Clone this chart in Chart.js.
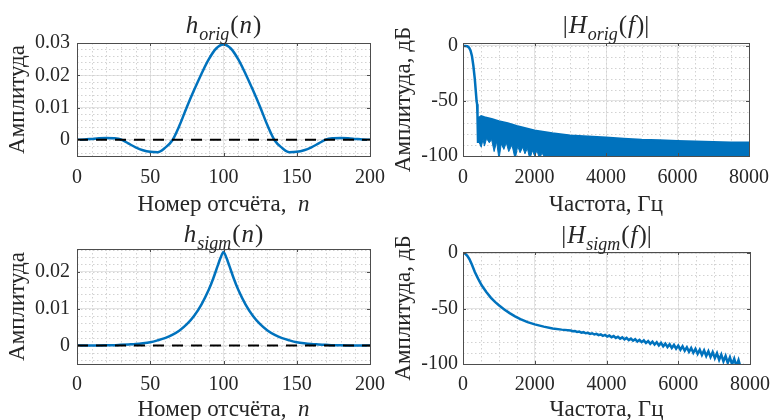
<!DOCTYPE html>
<html>
<head>
<meta charset="utf-8">
<script src="https://cdn.jsdelivr.net/npm/chart.js@4.4.1/dist/chart.umd.min.js"></script>
<style>
  body { margin: 0; background: #fff; }
  #wrap { position: relative; width: 779px; height: 420px; overflow: hidden; background: #fff; }
  #wrap canvas { position: absolute; left: 0; top: 0; }
</style>
</head>
<body>
<div id="wrap">
  <canvas id="cOrigT" width="779" height="420"></canvas>
  <canvas id="cOrigF" width="779" height="420"></canvas>
  <canvas id="cSigmT" width="779" height="420"></canvas>
  <canvas id="cSigmF" width="779" height="420"></canvas>
</div>
<script>
const FONT = '"Liberation Serif", "Times New Roman", serif';
const BLUE = '#0072bd';
const INK = '#262626';

// --- h_orig(n): impulse response
const nOrig = [0, 5, 10, 15, 20, 25, 30, 35, 40, 45, 50, 55, 60, 65, 70, 75, 80, 85, 90, 95, 100,
  105, 110, 115, 120, 125, 130, 135, 140, 145, 150, 155, 160, 165, 170, 175, 180, 185, 190, 195, 200];
const hOrig = [0, 0.0001, 0.0003, 0.0005, 0.0006, 0.0005, 0.0001, -0.0011, -0.0023, -0.0032, -0.0037, -0.0038, -0.0025, -0.0002, 0.0045, 0.0102, 0.0155, 0.0205, 0.0250, 0.0283, 0.0295,
  0.0283, 0.0250, 0.0205, 0.0155, 0.0102, 0.0045, -0.0002, -0.0025, -0.0038, -0.0037, -0.0032, -0.0023, -0.0011, 0.0001, 0.0005, 0.0006, 0.0005, 0.0003, 0.0001, 0];

// --- h_sigm(n)
const nSigm = [0, 10, 20, 25, 30, 35, 40, 45, 50, 55, 60, 65, 70, 75, 80, 85, 90, 93, 96, 98, 100,
  102, 104, 107, 110, 115, 120, 125, 130, 135, 140, 145, 150, 155, 160, 165, 170, 175, 180, 190, 200];
const hSigm = [0, 0, 0.0001, 0.0001, 0.0002, 0.0003, 0.0004, 0.0006, 0.0009, 0.0014, 0.0020, 0.0029, 0.0041, 0.0058, 0.0081, 0.0112, 0.0152, 0.0182, 0.0216, 0.0238, 0.0254,
  0.0238, 0.0216, 0.0182, 0.0152, 0.0112, 0.0081, 0.0058, 0.0041, 0.0029, 0.0020, 0.0014, 0.0009, 0.0006, 0.0004, 0.0003, 0.0002, 0.0001, 0.0001, 0, 0];

// --- |H_orig(f)|, dB: upper edge of the response and depth of the side-lobe nulls
const fOrigUp = [0, 60, 120, 170, 210, 250, 290, 330, 360, 380, 395, 405, 420, 440, 470, 510, 600, 800, 1000,
  1250, 1500, 1750, 2000, 2500, 3000, 3500, 4000, 4500, 5000, 5500, 6000, 6500, 7000, 7500, 8000];
const dbOrigUp = [0, 0, -0.3, -1.5, -4, -9, -18, -30, -42, -50, -53, -62, -87, -72, -65, -64, -65, -66.5, -68.5,
  -70.5, -73, -75, -77, -79.5, -81.5, -82.5, -83.5, -84.5, -85.5, -86, -86.5, -87, -87.5, -88, -88];
const fOrigLow = [420, 470, 510, 560, 600, 660, 735, 800, 871, 940, 1007, 1070, 1143, 1210, 1279, 1370, 1460,
  1530, 1597, 1670, 1733, 1800, 1869, 1940, 2005, 2070, 2141, 2210, 2300, 2400, 2500, 8000];
const dbOrigLow = [-87, -89, -92, -85, -91, -84, -88, -85, -96, -87, -103, -89, -94, -88, -96, -90, -103,
  -91, -97, -92, -98, -93, -103, -95, -100, -95, -103, -97, -103, -101, -105, -105];

// --- |H_sigm(f)|, dB
const fSigm = [0, 60, 120, 180, 250, 330, 420, 520, 650, 780, 900, 1000, 1150, 1300, 1450, 1600, 1800, 2000, 2250, 2500, 2750,
  3000, 3060, 3120, 3180, 3240, 3300, 3360, 3420, 3480, 3540,
  3600, 3660, 3720, 3780, 3840, 3900, 3960, 4020, 4080, 4140,
  4200, 4260, 4320, 4380, 4440, 4500, 4560, 4620, 4680, 4740,
  4800, 4860, 4920, 4980, 5040, 5100, 5160, 5220, 5280, 5340,
  5400, 5460, 5520, 5580, 5640, 5700, 5760, 5820, 5880, 5940,
  6000, 6060, 6120, 6180, 6240, 6300, 6360, 6420, 6480, 6540,
  6600, 6660, 6720, 6780, 6840, 6900, 6960, 7020, 7080, 7140,
  7200, 7260, 7320, 7380, 7440, 7500, 7560, 7620, 7680, 7740,
  7800, 7860, 8000];
const dbSigm = [0, -0.5, -2.5, -5.5, -10.5, -17, -23, -29, -35, -40.3, -44.2, -47, -50.8, -54.1, -57, -59.5, -62.2, -64.3, -66.3, -67.9, -69,
  -69.8, -70.5, -70.3, -71.1, -70.8, -71.7, -71.3, -72.3, -71.9, -72.9,
  -72.3, -73.4, -72.8, -74.0, -73.3, -74.6, -73.8, -75.2, -74.3, -75.8,
  -74.8, -76.5, -75.4, -77.1, -76.0, -77.8, -76.5, -78.4, -77.1, -79.0,
  -77.6, -79.7, -78.2, -80.3, -78.7, -81.1, -79.3, -81.8, -79.8, -82.5,
  -80.4, -83.3, -81.0, -84.0, -81.6, -84.7, -82.2, -85.5, -82.8, -86.2,
  -83.4, -87.1, -84.1, -88.0, -84.9, -89.0, -85.6, -89.9, -86.3, -90.9,
  -87.1, -91.8, -87.8, -92.8, -88.5, -93.7, -89.3, -94.7, -90.3, -96.2,
  -91.5, -97.6, -92.8, -99.0, -94.0, -100.4, -95.2, -101.9, -96.5, -103.4,
  -101.5, -106, -110];

// ticks
const nTicks = [0, 50, 100, 150, 200];
const hOrigTicks = [0, 0.01, 0.02, 0.03];
const hSigmTicks = [0, 0.01, 0.02];
const fTicks = [0, 2000, 4000, 6000, 8000];
const dbTicks = [-100, -50, 0];

// texts (i = italic, s = subscript)
const titleOrigT = [{t: 'h', i: 1}, {t: 'orig', i: 1, s: 1}, {t: '('}, {t: 'n', i: 1}, {t: ')'}];
const titleSigmT = [{t: 'h', i: 1}, {t: 'sigm', i: 1, s: 1}, {t: '('}, {t: 'n', i: 1}, {t: ')'}];
const titleOrigF = [{t: '|'}, {t: 'H', i: 1}, {t: 'orig', i: 1, s: 1}, {t: '('}, {t: 'f', i: 1}, {t: ')|'}];
const titleSigmF = [{t: '|'}, {t: 'H', i: 1}, {t: 'sigm', i: 1, s: 1}, {t: '('}, {t: 'f', i: 1}, {t: ')|'}];
const xLabelN = [{t: 'Номер отсчёта,  '}, {t: 'n', i: 1}];
const xLabelF = [{t: 'Частота, Гц'}];
const yLabelLin = 'Амплитуда';
const yLabelDb = 'Амплитуда, дБ';

const pts = (xs, ys) => xs.map((x, k) => ({x: x, y: ys[k]}));

function drawRich(ctx, parts, cx, base, size, gap) {
  let w = 0;
  const fonts = parts.map(p => (p.i ? 'italic ' : '') + Math.round(p.s ? size * 0.7 : size) + 'px ' + FONT);
  const ws = parts.map((p, k) => { ctx.font = fonts[k]; const m = ctx.measureText(p.t).width + gap; w += m; return m; });
  let x = cx - (w - gap) / 2;
  ctx.textAlign = 'left';
  ctx.textBaseline = 'alphabetic';
  ctx.fillStyle = INK;
  parts.forEach((p, k) => {
    ctx.font = fonts[k];
    ctx.fillText(p.t, x, base + (p.s ? size * 0.28 : 0));
    x += ws[k];
  });
}

// minor grid, box, tick marks, title and x label, matlab style
const axesDeco = {
  id: 'axesDeco',
  beforeDatasetsDraw(chart, args, o) {
    const {ctx, chartArea: a, scales: {x, y}} = chart;
    ctx.save();
    ctx.strokeStyle = '#d2d2d2';
    ctx.lineWidth = 1;
    ctx.setLineDash([1.5, 2.5]);
    for (let k = Math.ceil(x.min / o.xMinor); k * o.xMinor <= x.max + 1e-9; k++) {
      const px = Math.round(x.getPixelForValue(k * o.xMinor)) + 0.5;
      ctx.beginPath(); ctx.moveTo(px, a.top); ctx.lineTo(px, a.bottom); ctx.stroke();
    }
    for (let k = Math.ceil(y.min / o.yMinor - 1e-9); k * o.yMinor <= y.max + 1e-9; k++) {
      const py = Math.round(y.getPixelForValue(k * o.yMinor)) + 0.5;
      ctx.beginPath(); ctx.moveTo(a.left, py); ctx.lineTo(a.right, py); ctx.stroke();
    }
    ctx.restore();
  },
  afterDatasetsDraw(chart, args, o) {
    const {ctx, chartArea: a, scales: {x, y}} = chart;
    ctx.save();
    ctx.strokeStyle = '#4d4d4d';
    ctx.lineWidth = 1;
    ctx.strokeRect(Math.round(a.left) + 0.5, Math.round(a.top) + 0.5, Math.round(a.right - a.left), Math.round(a.bottom - a.top));
    ctx.beginPath();
    x.ticks.forEach(t => {
      const px = Math.round(x.getPixelForValue(t.value)) + 0.5;
      ctx.moveTo(px, a.bottom); ctx.lineTo(px, a.bottom - 3);
      ctx.moveTo(px, a.top); ctx.lineTo(px, a.top + 3);
    });
    y.ticks.forEach(t => {
      const py = Math.round(y.getPixelForValue(t.value)) + 0.5;
      ctx.moveTo(a.left, py); ctx.lineTo(a.left + 3, py);
      ctx.moveTo(a.right, py); ctx.lineTo(a.right - 3, py);
    });
    ctx.stroke();
    const cx = (a.left + a.right) / 2;
    drawRich(ctx, o.title, cx, a.top - o.titleGap, 25, 1);
    drawRich(ctx, o.xLabel, cx, a.bottom + o.xLabelGap, 23, 0);
    ctx.restore();
  }
};

function makeChart(id, box, xAx, yAx, datasets, deco) {
  const tickFont = {family: FONT, size: 20};
  new Chart(document.getElementById(id), {
    type: 'line',
    data: {datasets: datasets},
    options: {
      responsive: false,
      animation: false,
      events: [],
      layout: {padding: {left: box.padL, top: box.top, right: 779 - box.right, bottom: 420 - box.bottom - 40}},
      elements: {point: {radius: 0}},
      plugins: {legend: {display: false}, tooltip: {enabled: false}, axesDeco: deco},
      scales: {
        x: {
          type: 'linear', min: xAx.min, max: xAx.max,
          afterFit: s => { s.height = 40; },
          afterBuildTicks: s => { s.ticks = xAx.ticks.map(v => ({value: v})); },
          ticks: {font: tickFont, color: INK, padding: xAx.pad, autoSkip: false, maxRotation: 0, callback: v => String(v)},
          grid: {color: '#e4e4e4', lineWidth: 1, drawTicks: false},
          border: {display: false}
        },
        y: {
          type: 'linear', min: yAx.min, max: yAx.max,
          afterFit: s => { s.width = box.left - box.padL; },
          afterBuildTicks: s => { s.ticks = yAx.ticks.map(v => ({value: v})); },
          ticks: {font: tickFont, color: INK, padding: yAx.pad, autoSkip: false, callback: v => String(v)},
          grid: {color: '#e4e4e4', lineWidth: 1, drawTicks: false},
          border: {display: false},
          title: {display: true, text: yAx.label, color: INK, font: {family: FONT, size: 23}, padding: {top: yAx.titlePad, bottom: 0}}
        }
      }
    },
    plugins: [axesDeco]
  });
}

const zeroLine = xs => [{x: xs[0], y: 0}, {x: xs[xs.length - 1], y: 0}];

makeChart('cOrigT', {padL: 0, left: 77, right: 370, top: 43, bottom: 156},
  {min: 0, max: 200, ticks: nTicks, pad: 10},
  {min: -0.005, max: 0.03, ticks: hOrigTicks, pad: 7, label: yLabelLin, titlePad: 4},
  [
    {data: zeroLine(nOrig), borderColor: '#000', borderWidth: 2, borderDash: [11, 8]},
    {data: pts(nOrig, hOrig), borderColor: BLUE, borderWidth: 2.5, cubicInterpolationMode: 'monotone'}
  ],
  {xMinor: 10, yMinor: 0.002, title: titleOrigT, titleGap: 10, xLabel: xLabelN, xLabelGap: 55});

makeChart('cOrigF', {padL: 389, left: 463, right: 757, top: 43, bottom: 156},
  {min: 0, max: 8000, ticks: fTicks, pad: 10},
  {min: -100, max: 2.7, ticks: dbTicks, pad: 5, label: yLabelDb, titlePad: 1},
  [
    {data: pts(fOrigUp, dbOrigUp), borderColor: BLUE, borderWidth: 2.5, tension: 0, fill: '+1', backgroundColor: BLUE},
    {data: pts(fOrigLow, dbOrigLow), borderColor: BLUE, borderWidth: 1, tension: 0, fill: false}
  ],
  {xMinor: 500, yMinor: 10, title: titleOrigF, titleGap: 10, xLabel: xLabelF, xLabelGap: 55});

makeChart('cSigmT', {padL: 0, left: 77, right: 370, top: 249, bottom: 364},
  {min: 0, max: 200, ticks: nTicks, pad: 9},
  {min: -0.005, max: 0.0262, ticks: hSigmTicks, pad: 7, label: yLabelLin, titlePad: 4},
  [
    {data: zeroLine(nSigm), borderColor: '#000', borderWidth: 2, borderDash: [11, 8]},
    {data: pts(nSigm, hSigm), borderColor: BLUE, borderWidth: 2.5, cubicInterpolationMode: 'monotone'}
  ],
  {xMinor: 10, yMinor: 0.002, title: titleSigmT, titleGap: 7, xLabel: xLabelN, xLabelGap: 52});

makeChart('cSigmF', {padL: 389, left: 463, right: 757, top: 252, bottom: 364},
  {min: 0, max: 8000, ticks: fTicks, pad: 9},
  {min: -100, max: 1, ticks: dbTicks, pad: 5, label: yLabelDb, titlePad: 1},
  [
    {data: pts(fSigm, dbSigm), borderColor: BLUE, borderWidth: 2.5, tension: 0}
  ],
  {xMinor: 500, yMinor: 10, title: titleSigmF, titleGap: 9, xLabel: xLabelF, xLabelGap: 52});
</script>
</body>
</html>
